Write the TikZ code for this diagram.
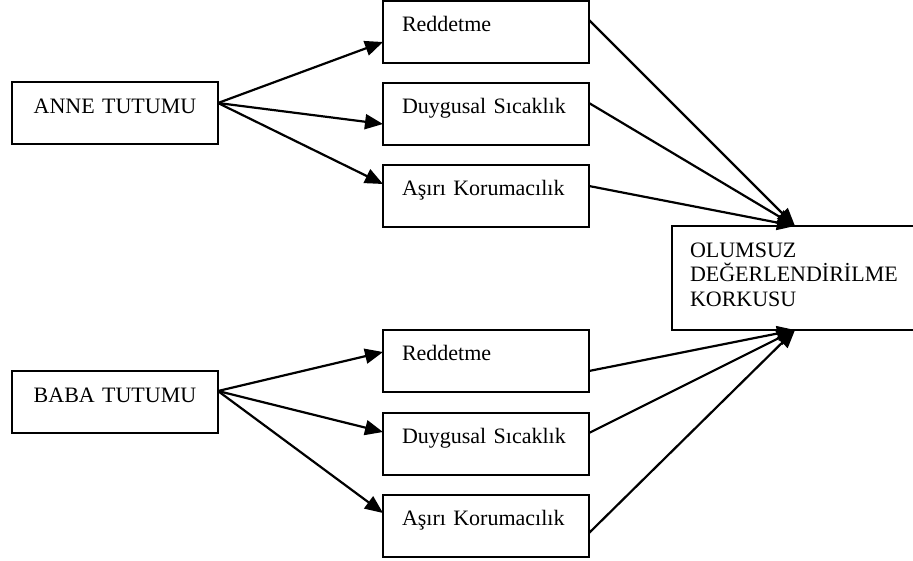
\documentclass[tikz,border=0pt]{standalone}
\usepackage{fontspec}
\setmainfont{Liberation Serif}
\usetikzlibrary{arrows.meta,calc}
\begin{document}
\begin{tikzpicture}[x=1pt,y=-1pt,
  every node/.style={font=\fontsize{22}{24.5}\selectfont},
  midbox/.style={draw,line width=1.5pt,outer sep=0pt,anchor=north west,
    inner xsep=19pt,inner ysep=10pt,text width=168pt,align=left,
    text height=20pt,text depth=22pt},
  srcbox/.style={draw,line width=1.5pt,outer sep=0pt,anchor=north west,
    inner xsep=10pt,inner ysep=10pt,text width=186pt,align=center,
    text height=21pt,text depth=21pt},
  outbox/.style={draw,line width=1.5pt,outer sep=0pt,anchor=north west,
    inner xsep=18pt,inner ysep=10pt,text width=208pt,align=left,
    text height=21pt,text depth=63pt},
  arr/.style={line width=2.2pt,-{Triangle[length=18pt,width=15pt]}}]
\useasboundingbox (0,0) rectangle (913,560);
\clip (0,0) rectangle (913,560);
\node[srcbox] (anne) at (12,82) {ANNE TUTUMU};
\node[srcbox] (baba) at (12,371) {BABA TUTUMU};
\node[midbox] (ar) at (383,1) {Reddetme};
\node[midbox] (ad) at (383,83) {Duygusal Sıcaklık};
\node[midbox] (ak) at (383,165) {Aşırı Korumacılık};
\node[midbox] (br) at (383,330) {Reddetme};
\node[midbox] (bd) at (383,413) {Duygusal Sıcaklık};
\node[midbox] (bk) at (383,495) {Aşırı Korumacılık};
\node[outbox] (ol) at (672,226) {OLUMSUZ\\DEĞERLENDİRİLME\\KORKUSU};
\coordinate (as) at ($(anne.north east)+(0,21)$);
\coordinate (bs) at ($(baba.north east)+(0,20)$);
\coordinate (ot) at ($(ol.north west)+(123,0)$);
\coordinate (ob) at ($(ol.south west)+(123,0)$);
\draw[arr] (as) -- ($(ar.north west)+(0,41)$);
\draw[arr] (as) -- ($(ad.north west)+(0,41)$);
\draw[arr] (as) -- ($(ak.north west)+(0,19)$);
\draw[arr] (bs) -- ($(br.north west)+(0,22)$);
\draw[arr] (bs) -- ($(bd.north west)+(0,19)$);
\draw[arr] (bs) -- ($(bk.north west)+(0,18)$);
\draw[arr] ($(ar.north east)+(0,19)$) -- (ot);
\draw[arr] ($(ad.north east)+(0,20)$) -- (ot);
\draw[arr] ($(ak.north east)+(0,21)$) -- (ot);
\draw[arr] ($(br.north east)+(0,41)$) -- (ob);
\draw[arr] ($(bd.north east)+(0,20)$) -- (ob);
\draw[arr] ($(bk.north east)+(0,38)$) -- (ob);
\end{tikzpicture}
\end{document}
